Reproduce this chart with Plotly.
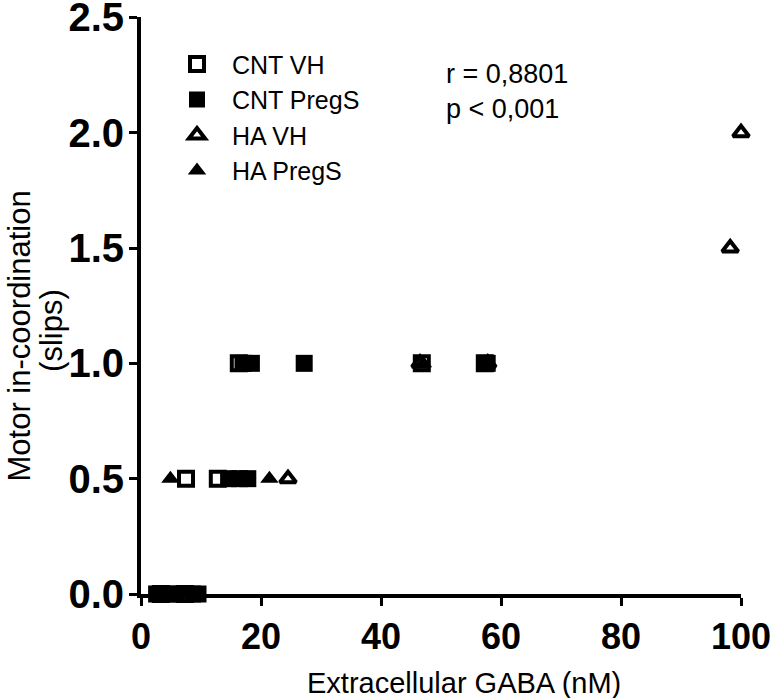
import plotly.graph_objects as go

# ---- data ----
cnt_vh_x = [3.3, 7.3, 7.5, 12.8, 16.3, 46.8, 57.3]
cnt_vh_y = [0.0, 0.0, 0.5, 0.5, 1.0, 1.0, 1.0]

cnt_pregs_x = [2.6, 4.6, 5.8, 8.6, 9.5, 14.6, 16.4, 17.8, 17.0, 18.4, 27.2, 57.7]
cnt_pregs_y = [0.0, 0.0, 0.0, 0.0, 0.0, 0.5, 0.5, 0.5, 1.0, 1.0, 1.0, 1.0]

ha_vh_x = [24.5, 46.5, 57.8, 98.2, 100.0]
ha_vh_y = [0.5, 1.0, 1.0, 1.5, 2.0]

ha_pregs_x = [3.8, 6.8, 4.9, 17.5, 21.4, 47.0]
ha_pregs_y = [0.0, 0.0, 0.5, 0.5, 0.5, 1.0]

x_ticks = [0, 20, 40, 60, 80, 100]
y_ticks = [0.0, 0.5, 1.0, 1.5, 2.0, 2.5]

FONT = "Liberation Sans, Arial, sans-serif"

fig = go.Figure()
fig.add_trace(go.Scatter(
    x=cnt_vh_x, y=cnt_vh_y, mode="markers", name="CNT VH", cliponaxis=False,
    marker=dict(symbol="square-open", size=14, color="black", line=dict(width=4, color="black"))))
fig.add_trace(go.Scatter(
    x=cnt_pregs_x, y=cnt_pregs_y, mode="markers", name="CNT PregS", cliponaxis=False,
    marker=dict(symbol="square", size=17, color="black", line=dict(width=0))))
fig.add_trace(go.Scatter(
    x=ha_vh_x, y=ha_vh_y, mode="markers", name="HA VH", cliponaxis=False,
    marker=dict(symbol="triangle-up-open", size=14, color="black", line=dict(width=4, color="black"))))
fig.add_trace(go.Scatter(
    x=ha_pregs_x, y=ha_pregs_y, mode="markers", name="HA PregS", cliponaxis=False,
    marker=dict(symbol="triangle-up", size=16, color="black", line=dict(width=0))))

# statistics text
fig.add_annotation(
    xref="paper", yref="paper", x=0.505, y=0.93, xanchor="left", yanchor="top",
    text="r = 0,8801<br>p < 0,001", showarrow=False, align="left",
    font=dict(family=FONT, size=27, color="black"))

# axis titles
fig.add_annotation(
    xref="paper", yref="paper", x=0.538, y=-0.155, xanchor="center", yanchor="middle",
    text="Extracellular GABA (nM)", showarrow=False,
    font=dict(family=FONT, size=29, color="black"))
fig.add_annotation(
    xref="paper", yref="paper", x=-0.2017, y=0.448, xanchor="center", yanchor="middle",
    text="Motor in-coordination", showarrow=False, textangle=-90,
    font=dict(family=FONT, size=31, color="black"))
fig.add_annotation(
    xref="paper", yref="paper", x=-0.1483, y=0.456, xanchor="center", yanchor="middle",
    text="(slips)", showarrow=False, textangle=-90,
    font=dict(family=FONT, size=31, color="black"))

fig.update_layout(
    width=774, height=698,
    margin=dict(l=141, r=33, t=17, b=104, pad=0, autoexpand=False),
    paper_bgcolor="white", plot_bgcolor="white",
    showlegend=True,
    legend=dict(x=0.035, y=0.958, xanchor="left", yanchor="top",
                font=dict(family=FONT, size=25, color="black"),
                bgcolor="rgba(0,0,0,0)", itemwidth=60, tracegroupgap=0),
    xaxis=dict(
        range=[0, 100], tickvals=x_ticks, showline=True, linewidth=4, linecolor="black",
        ticks="outside", ticklen=8, tickwidth=3, tickcolor="black",
        showgrid=False, zeroline=False, automargin=False, ticklabeloverflow="allow",
        tickfont=dict(family=FONT, size=36, color="black", weight="bold")),
    yaxis=dict(
        range=[0, 2.5015], tickvals=y_ticks, tickformat=".1f", showline=True, linewidth=4,
        linecolor="black", ticks="outside", ticklen=8, tickwidth=3, tickcolor="black",
        showgrid=False, zeroline=False, automargin=False, ticklabeloverflow="allow",
        ticklabelstandoff=-3,
        tickfont=dict(family=FONT, size=40, color="black", weight="bold")),
)

fig.write_html("out.html", config={"displayModeBar": False},
               post_script="document.body.style.margin='0px';")
